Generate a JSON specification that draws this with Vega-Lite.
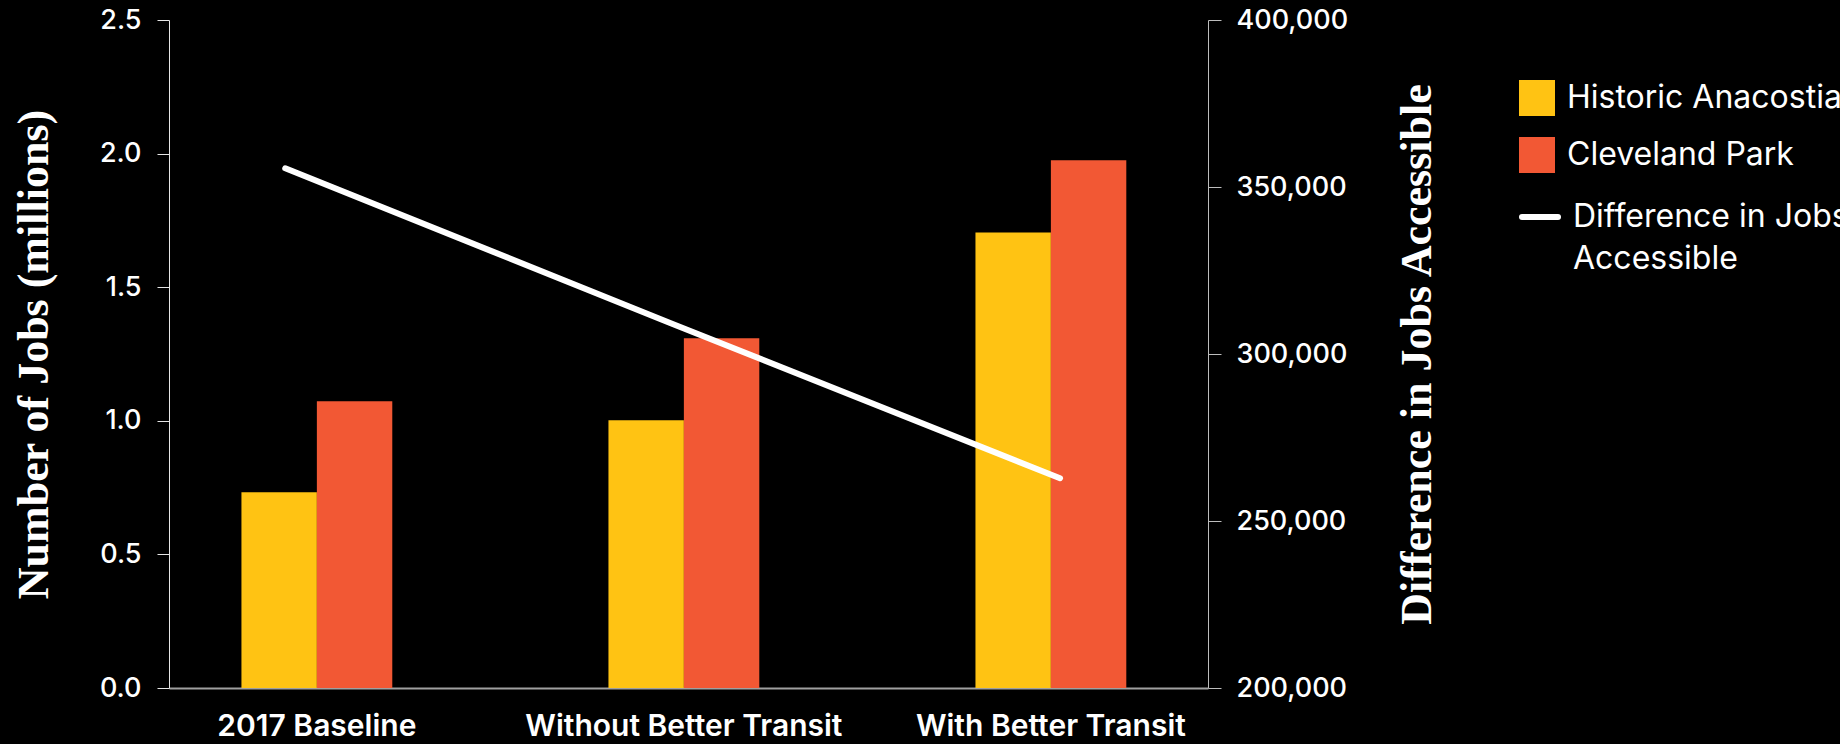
{
  "$schema": "https://vega.github.io/schema/vega-lite/v6.json",
  "width": 1039,
  "height": 668,
  "autosize": {"type": "none"},
  "padding": {"left": 169, "top": 20, "right": 632, "bottom": 56},
  "background": "#000000",
  "config": {
    "view": {"stroke": null},
    "font": "Inter",
    "axis": {"grid": false, "labelColor": "#ffffff", "titleColor": "#ffffff"}
  },
  "datasets": {
    "jobs": [
      {"scenario": "2017 Baseline", "area": "Historic Anacostia", "jobs": 0.733},
      {"scenario": "2017 Baseline", "area": "Cleveland Park", "jobs": 1.073},
      {"scenario": "Without Better Transit", "area": "Historic Anacostia", "jobs": 1.002},
      {"scenario": "Without Better Transit", "area": "Cleveland Park", "jobs": 1.309},
      {"scenario": "With Better Transit", "area": "Historic Anacostia", "jobs": 1.705},
      {"scenario": "With Better Transit", "area": "Cleveland Park", "jobs": 1.975}
    ],
    "gap": [
      {"scenario": "2017 Baseline", "difference": 355600, "series": "Difference in Jobs Accessible"},
      {"scenario": "Without Better Transit", "difference": 309000, "series": "Difference in Jobs Accessible"},
      {"scenario": "With Better Transit", "difference": 262800, "series": "Difference in Jobs Accessible"}
    ]
  },
  "layer": [
    {
      "data": {"name": "jobs"},
      "mark": {"type": "bar"},
      "encoding": {
        "x": {
          "field": "scenario",
          "type": "nominal",
          "scale": {
            "domain": ["2017 Baseline", "Without Better Transit", "With Better Transit"],
            "paddingInner": 0.589,
            "paddingOuter": 0.21,
            "align": 0.47
          },
          "axis": {
            "title": null,
            "labelAngle": 0,
            "labelFont": "Inter",
            "labelFontSize": 30,
            "labelFontWeight": 600,
            "labelLimit": 0,
            "labelPadding": 23,
            "ticks": false,
            "tickSize": 0,
            "domainColor": "#a0a0a0",
            "domainWidth": 2
          }
        },
        "xOffset": {
          "field": "area",
          "type": "nominal",
          "scale": {"domain": ["Historic Anacostia", "Cleveland Park"]}
        },
        "y": {
          "field": "jobs",
          "type": "quantitative",
          "scale": {"domain": [0, 2.5], "nice": false},
          "axis": {
            "title": "Number of Jobs (millions)",
            "titleFont": "Liberation Serif",
            "titleFontSize": 44,
            "titleFontWeight": "bold",
            "titleAngle": 270,
            "titleAlign": "center",
            "titleBaseline": "middle",
            "titleX": -135,
            "titleY": 334,
            "values": [0, 0.5, 1, 1.5, 2, 2.5],
            "format": ".1f",
            "labelFont": "Inter",
            "labelFontSize": 27,
            "labelFontWeight": 500,
            "labelPadding": 16,
            "tickSize": 12,
            "tickColor": "#e6e6e6",
            "domainColor": "#e6e6e6"
          }
        },
        "color": {
          "field": "area",
          "type": "nominal",
          "scale": {
            "domain": ["Historic Anacostia", "Cleveland Park"],
            "range": ["#FFC313", "#F25834"]
          },
          "legend": {
            "title": null,
            "orient": "none",
            "legendX": 1350,
            "legendY": 60,
            "labelColor": "#ffffff",
            "labelFont": "Inter",
            "labelFontSize": 32,
            "labelOffset": 12,
            "labelLimit": 0,
            "symbolType": "square",
            "symbolSize": 1296,
            "symbolStrokeWidth": 0,
            "symbolOpacity": 1,
            "rowPadding": 21
          }
        }
      }
    },
    {
      "data": {"name": "gap"},
      "mark": {"type": "line", "strokeWidth": 6, "strokeCap": "round"},
      "encoding": {
        "x": {
          "field": "scenario",
          "type": "ordinal",
          "sort": null,
          "scale": {
            "type": "point",
            "domain": ["2017 Baseline", "Without Better Transit", "With Better Transit"],
            "padding": 0.341,
            "align": 0.44
          },
          "axis": null
        },
        "y": {
          "field": "difference",
          "type": "quantitative",
          "scale": {"domain": [200000, 400000], "nice": false},
          "axis": {
            "orient": "right",
            "title": "Difference in Jobs Accessible",
            "titleFont": "Liberation Serif",
            "titleFontSize": 44,
            "titleFontWeight": "bold",
            "titleAngle": 270,
            "titleAlign": "center",
            "titleBaseline": "middle",
            "titleX": 209,
            "titleY": 334,
            "values": [200000, 250000, 300000, 350000, 400000],
            "format": ",.0f",
            "labelFont": "Inter",
            "labelFontSize": 27,
            "labelFontWeight": 500,
            "labelPadding": 15,
            "tickSize": 13,
            "tickColor": "#bdbdbd",
            "domainColor": "#bdbdbd"
          }
        },
        "stroke": {
          "field": "series",
          "type": "nominal",
          "scale": {"range": ["#ffffff"]},
          "legend": {
            "title": null,
            "orient": "none",
            "legendX": 1350,
            "legendY": 176,
            "labelColor": "#ffffff",
            "labelFont": "Inter",
            "labelFontSize": 32,
            "labelOffset": 12,
            "labelLimit": 0,
            "labelBaseline": "middle",
            "symbolType": "stroke",
            "symbolSize": 1296,
            "symbolStrokeWidth": 6,
            "symbolOpacity": 1,
            "labelExpr": "['Difference in Jobs', 'Accessible']",
            "encode": {
              "labels": {"update": {"lineHeight": {"value": 42}}},
              "symbols": {"update": {"strokeCap": {"value": "round"}}}
            }
          }
        }
      }
    }
  ],
  "resolve": {"scale": {"x": "independent", "y": "independent"}}
}
